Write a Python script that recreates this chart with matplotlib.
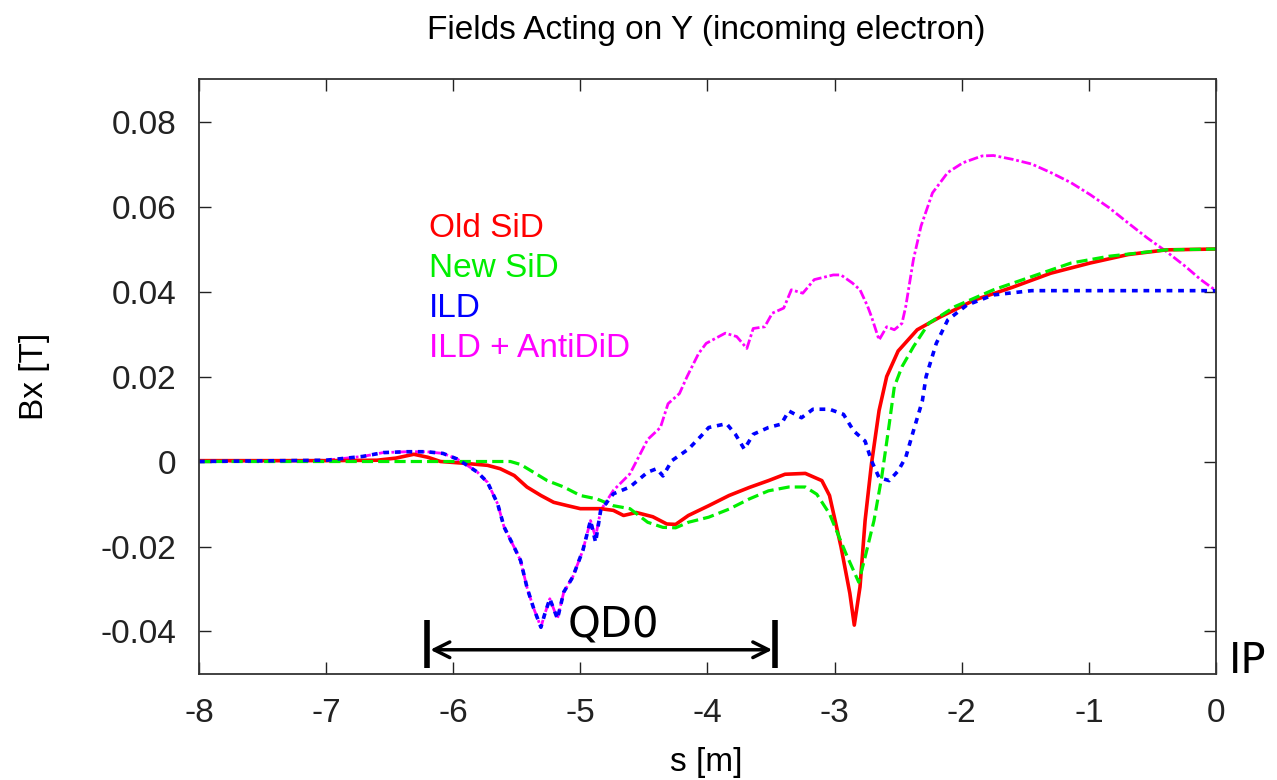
import matplotlib
matplotlib.use("Agg")
import matplotlib.pyplot as plt

plt.rcParams['font.family'] = ['Liberation Sans', 'DejaVu Sans']
plt.rcParams['axes.unicode_minus'] = False

# Old SiD (red, solid)
old_s = [-8.0, -7.0, -6.6, -6.45, -6.31, -6.2, -6.1, -5.92, -5.73, -5.63, -5.52, -5.42,
         -5.31, -5.21, -5.10, -5.0, -4.84, -4.74, -4.66, -4.56, -4.43, -4.32, -4.25, -4.15,
         -3.99, -3.83, -3.67, -3.52, -3.39, -3.23, -3.10, -3.04, -2.95, -2.88, -2.845, -2.80,
         -2.76, -2.71, -2.65, -2.59, -2.50, -2.35, -2.17, -1.90, -1.60, -1.30, -0.99, -0.69,
         -0.39, 0.0]
old_b = [0.0002, 0.0002, 0.0003, 0.0008, 0.0017, 0.0010, 0.0, -0.0004, -0.0009, -0.0017,
         -0.0033, -0.006, -0.008, -0.0096, -0.0104, -0.0111, -0.0111, -0.0115, -0.0127, -0.012,
         -0.013, -0.0147, -0.0148, -0.0127, -0.0104, -0.008, -0.0061, -0.0045, -0.003, -0.0028,
         -0.0045, -0.008, -0.020, -0.031, -0.0385, -0.0295, -0.0139, -0.0006, 0.012, 0.020,
         0.026, 0.031, 0.034, 0.038, 0.041, 0.0443, 0.0467, 0.0487, 0.0498, 0.050]

# New SiD (green, dashed)
new_s = [-8.0, -6.0, -5.55, -5.47, -5.37, -5.26, -5.13, -5.0, -4.87, -4.74, -4.61, -4.47,
         -4.35, -4.25, -4.15, -3.99, -3.83, -3.67, -3.52, -3.36, -3.23, -3.14, -3.04, -2.91,
         -2.81, -2.76, -2.69, -2.63, -2.57, -2.53, -2.47, -2.38, -2.26, -2.05, -1.75, -1.45,
         -1.14, -0.84, -0.39, 0.0]
new_b = [0.0, 0.0, 0.0, -0.0007, -0.0025, -0.0045, -0.006, -0.008, -0.0088, -0.0104, -0.0111,
         -0.0143, -0.0155, -0.0156, -0.0143, -0.0131, -0.0112, -0.0088, -0.0069, -0.006, -0.006,
         -0.0077, -0.0123, -0.0217, -0.0284, -0.0225, -0.0139, -0.0038, 0.0088, 0.0176, 0.0223,
         0.027, 0.0325, 0.0365, 0.0404, 0.0435, 0.0467, 0.0483, 0.0498, 0.050]

# ILD (blue, dotted)
ild_s = [-8.0, -7.0, -6.71, -6.55, -6.36, -6.21, -6.08, -5.97, -5.89, -5.81, -5.73, -5.65,
         -5.60, -5.52, -5.47, -5.42, -5.37, -5.31, -5.28, -5.24, -5.18, -5.13, -5.06, -4.98,
         -4.92, -4.88, -4.84, -4.74, -4.61, -4.47, -4.40, -4.35, -4.28, -4.15, -4.05, -3.99,
         -3.85, -3.78, -3.71, -3.64, -3.52, -3.42, -3.36, -3.26, -3.17, -3.04, -2.93, -2.85,
         -2.76, -2.71, -2.65, -2.57, -2.50, -2.44, -2.38, -2.31, -2.28, -2.20, -2.11, -1.96,
         -1.75, -1.45, 0.0]
ild_b = [0.0, 0.0003, 0.0012, 0.0021, 0.0023, 0.0023, 0.0019, 0.0006, -0.0009, -0.0025,
         -0.0049, -0.010, -0.0154, -0.0202, -0.0233, -0.0296, -0.0343, -0.039, -0.0359, -0.0323,
         -0.037, -0.0307, -0.0272, -0.0209, -0.0139, -0.019, -0.0115, -0.0076, -0.006, -0.0025,
         -0.0017, -0.0034, 0.0002, 0.0029, 0.006, 0.008, 0.0089, 0.0064, 0.0029, 0.0064, 0.008,
         0.0088, 0.0119, 0.0103, 0.0123, 0.0123, 0.0111, 0.0072, 0.0048, 0.0002, -0.0038,
         -0.0045, -0.0022, 0.001, 0.0072, 0.0142, 0.020, 0.0278, 0.0333, 0.0368, 0.0392,
         0.0402, 0.0402]

# ILD + AntiDiD (magenta)
anti_s = [-8.0, -7.0, -6.71, -6.55, -6.36, -6.21, -6.08, -5.97, -5.89, -5.81, -5.73, -5.65,
          -5.60, -5.52, -5.47, -5.42, -5.37, -5.31, -5.28, -5.24, -5.18, -5.13, -5.06, -4.98,
          -4.92, -4.88, -4.84, -4.74, -4.61, -4.47, -4.37, -4.31, -4.22, -4.16, -4.07, -4.01,
          -3.86, -3.77, -3.69, -3.64, -3.55, -3.49, -3.40, -3.34, -3.25, -3.16, -3.01, -2.95,
          -2.86, -2.80, -2.74, -2.71, -2.65, -2.59, -2.53, -2.47, -2.44, -2.38, -2.32, -2.23,
          -2.11, -1.99, -1.84, -1.75, -1.60, -1.45, -1.30, -1.14, -0.99, -0.84, -0.69, -0.54,
          -0.39, -0.24, -0.12, 0.0]
anti_b = [0.0, 0.0003, 0.0012, 0.0021, 0.0023, 0.0023, 0.0019, 0.0006, -0.0009, -0.0025,
          -0.0049, -0.010, -0.0154, -0.0202, -0.0233, -0.0296, -0.0343, -0.039, -0.0359, -0.0323,
          -0.037, -0.0307, -0.0272, -0.0209, -0.0139, -0.0178, -0.0115, -0.0068, -0.0029, 0.0052,
          0.008, 0.0136, 0.016, 0.020, 0.0254, 0.0278, 0.0302, 0.0294, 0.0266, 0.0313, 0.0317,
          0.0349, 0.0361, 0.0404, 0.0396, 0.0428, 0.0439, 0.0439, 0.042, 0.0404, 0.0365, 0.0341,
          0.0286, 0.0317, 0.031, 0.0325, 0.0365, 0.0475, 0.0554, 0.0632, 0.068, 0.0703, 0.0719,
          0.072, 0.0711, 0.070, 0.068, 0.0656, 0.0628, 0.0597, 0.0561, 0.0526, 0.0494, 0.0459,
          0.0428, 0.0402]

legend_names = ["Old SiD", "New SiD", "ILD", "ILD + AntiDiD"]
legend_colors = ["#ff0000", "#00ee00", "#0000ff", "#ff00ff"]
x_ticks = [-8, -7, -6, -5, -4, -3, -2, -1, 0]
y_ticks = [-0.04, -0.02, 0, 0.02, 0.04, 0.06, 0.08]
y_labels = ["-0.04", "-0.02", "0", "0.02", "0.04", "0.06", "0.08"]

fs = 24

fig = plt.figure(figsize=(12.77, 7.8), dpi=100)
ax = fig.add_axes([0.1558, 0.1359, 0.7964, 0.7628])

ax.plot(anti_s, anti_b, color="#ff00ff", lw=2.0, dashes=(3.5, 1, 1, 1))
ax.plot(old_s, old_b, color="#ff0000", lw=2.6)
ax.plot(new_s, new_b, color="#00ee00", lw=2.3, dashes=(3.5, 1.6))
ax.plot(ild_s, ild_b, color="#0000ff", lw=2.6, dashes=(1.6, 1.6))

ax.set_xlim(-8, 0)
ax.set_ylim(-0.05, 0.09)
ax.set_xticks(x_ticks)
ax.set_yticks(y_ticks)
ax.set_yticklabels(y_labels)
ax.tick_params("both", direction="in", length=8.5, width=1, labelsize=fs,
               top=True, right=True, colors="#222222")
ax.tick_params("x", pad=17)
ax.tick_params("y", pad=16)
for sp in ax.spines.values():
    sp.set_linewidth(1.3)
    sp.set_color("#333333")

# legend as coloured text
for i, (name, c) in enumerate(zip(legend_names, legend_colors)):
    ax.text(-6.19, 0.0548 - i * 0.0094, name, color=c, fontsize=fs, va="center")

ax.set_ylabel("Bx [T]", fontsize=fs)
ax.yaxis.set_label_coords(-0.1465, 0.5)
fig.text(0.553, 0.003, "s [m]", fontsize=fs, ha="center", va="bottom")
fig.text(0.553, 1 - 30 / 780, "Fields Acting on Y (incoming electron)", fontsize=fs,
         ha="center", va="center")

# QD0 extent
ax.plot([-6.205, -6.205], [-0.0374, -0.0485], color="black", lw=4, solid_capstyle="butt")
ax.plot([-3.465, -3.465], [-0.0374, -0.0485], color="black", lw=4, solid_capstyle="butt")
ax.annotate("", xy=(-6.18, -0.0443), xytext=(-3.49, -0.0443),
            arrowprops=dict(arrowstyle="<->", color="black", lw=2.5,
                            mutation_scale=28, shrinkA=0, shrinkB=0))
ax.text(-5.1, -0.0415, "QD0", fontsize=30, family="DejaVu Sans", color="black")
ax.text(0.1, -0.0497, "IP", fontsize=30, family="DejaVu Sans", color="black",
        clip_on=False)

fig.savefig("out.png", dpi=100)
